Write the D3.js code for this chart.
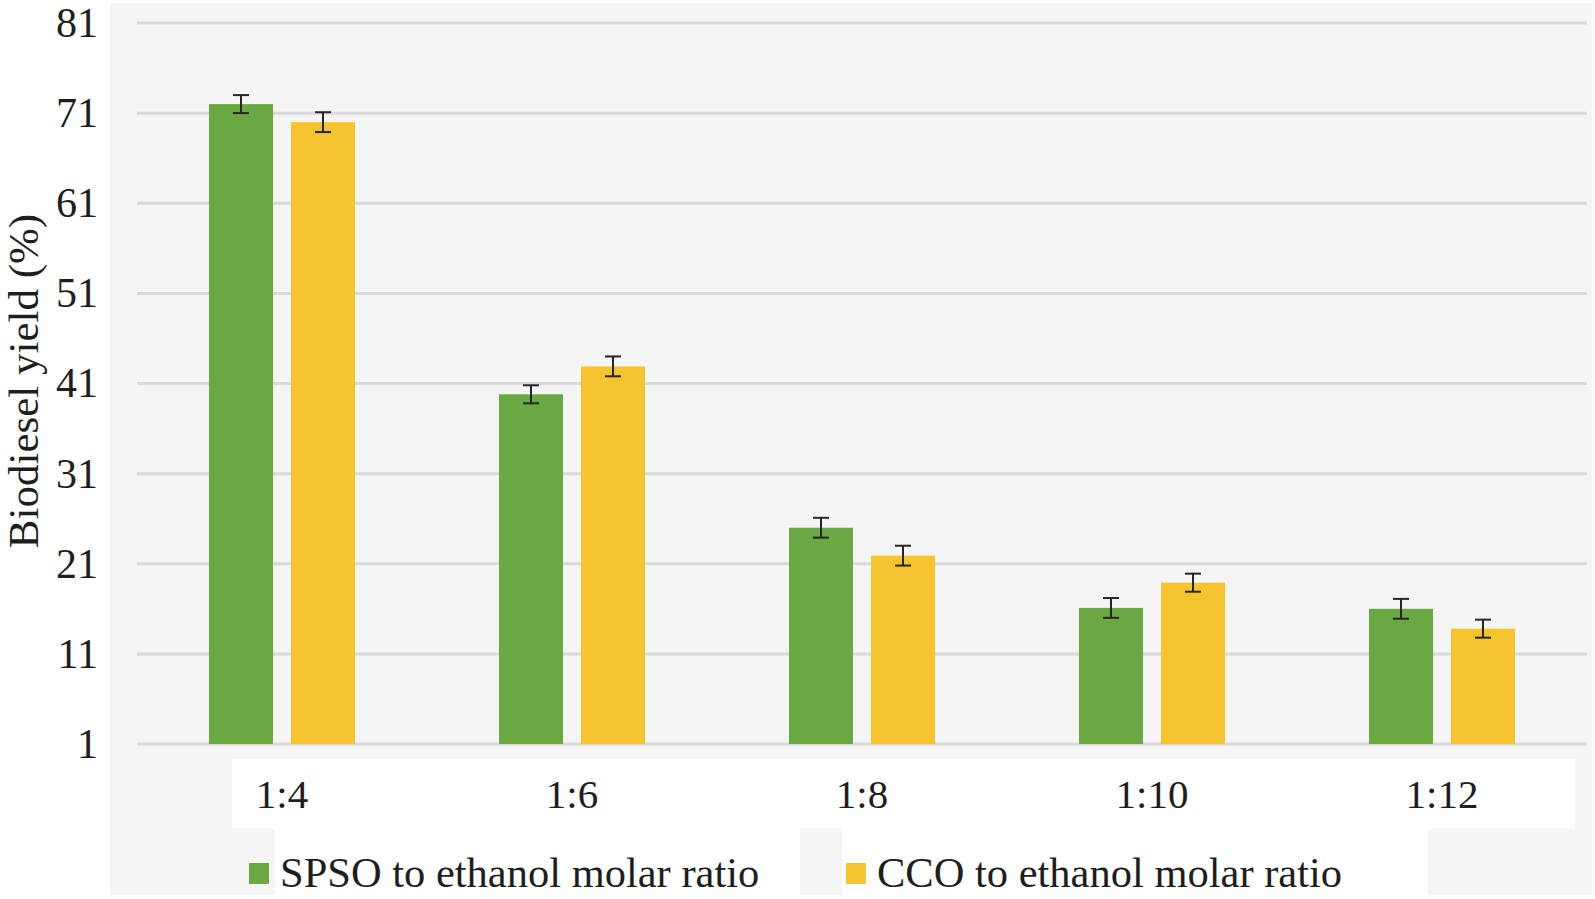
<!DOCTYPE html>
<html>
<head>
<meta charset="utf-8">
<script src="https://cdn.jsdelivr.net/npm/d3@7"></script>
<style>
  html, body { margin: 0; padding: 0; background: #ffffff; }
  svg { display: block; }
  text { font-family: "Liberation Serif", "Times New Roman", serif; fill: #1e1e1e; }
</style>
</head>
<body>
<svg id="chart" width="1595" height="899"></svg>
<script>
const categories = ["1:4", "1:6", "1:8", "1:10", "1:12"];
const seriesNames = ["SPSO to ethanol molar ratio", "CCO to ethanol molar ratio"];
const spsoValues = [72.0, 39.8, 25.0, 16.1, 16.0];
const ccoValues = [70.0, 42.9, 21.9, 18.9, 13.8];
const spsoErrors = [1.0, 1.0, 1.1, 1.1, 1.1];
const ccoErrors = [1.1, 1.1, 1.1, 1.0, 1.0];
const yTicks = [1, 11, 21, 31, 41, 51, 61, 71, 81];
const colors = ["#6aa843", "#f6c42f"];

const svg = d3.select("#chart");

// background panels
const bg = svg.append("g");
bg.append("rect").attr("x", 110).attr("y", 3).attr("width", 1482).attr("height", 892).attr("fill", "#f5f5f5");
bg.append("rect").attr("x", 232).attr("y", 759).attr("width", 1343).attr("height", 70).attr("fill", "#ffffff");
bg.append("rect").attr("x", 275).attr("y", 829).attr("width", 525).attr("height", 66).attr("fill", "#ffffff");
bg.append("rect").attr("x", 842).attr("y", 829).attr("width", 586).attr("height", 66).attr("fill", "#ffffff");

const x = d3.scaleBand().domain(categories).range([137, 1587]).paddingInner(0).paddingOuter(0);
const y = d3.scaleLinear().domain([1, 81]).range([744, 23]);

// gridlines
svg.append("g").selectAll("line").data(yTicks).join("line")
  .attr("x1", 137).attr("x2", 1587)
  .attr("y1", d => y(d)).attr("y2", d => y(d))
  .attr("stroke", "#d9d9d9").attr("stroke-width", 3);

// y tick labels via axis
const yAxis = svg.append("g").attr("transform", "translate(98,0)")
  .call(d3.axisLeft(y).tickValues(yTicks).tickSize(0).tickPadding(0));
yAxis.select(".domain").remove();
yAxis.selectAll("text").attr("font-size", 42).attr("font-family", "Liberation Serif").attr("fill", "#1e1e1e");

// y title
svg.append("text")
  .attr("transform", "translate(38,381) rotate(-90)")
  .attr("text-anchor", "middle")
  .attr("font-size", 43)
  .text("Biodiesel yield (%)");

// bars
const data = categories.map((c, i) => ({
  cat: c,
  vals: [
    { s: 0, v: spsoValues[i], e: spsoErrors[i] },
    { s: 1, v: ccoValues[i], e: ccoErrors[i] }
  ]
}));
const groupW = 146;
const barW = 64;
const gap = 18;
const groups = svg.append("g").selectAll("g").data(data).join("g")
  .attr("transform", d => `translate(${x(d.cat) + x.bandwidth() / 2 - groupW / 2},0)`);
groups.selectAll("rect").data(d => d.vals).join("rect")
  .attr("x", d => d.s * (barW + gap))
  .attr("width", barW)
  .attr("y", d => y(d.v))
  .attr("height", d => y(1) - y(d.v))
  .attr("fill", d => colors[d.s]);

// error bars
const eb = groups.selectAll("g.err").data(d => d.vals).join("g").attr("class", "err")
  .attr("transform", d => `translate(${d.s * (barW + gap) + barW / 2},0)`);
eb.append("line").attr("x1", 0).attr("x2", 0)
  .attr("y1", d => y(d.v + d.e)).attr("y2", d => y(d.v - d.e))
  .attr("stroke", "#262626").attr("stroke-width", 2);
eb.append("line").attr("x1", -8).attr("x2", 8)
  .attr("y1", d => y(d.v + d.e)).attr("y2", d => y(d.v + d.e))
  .attr("stroke", "#262626").attr("stroke-width", 2);
eb.append("line").attr("x1", -8).attr("x2", 8)
  .attr("y1", d => y(d.v - d.e)).attr("y2", d => y(d.v - d.e))
  .attr("stroke", "#262626").attr("stroke-width", 2);

// x labels via axis
const xAxis = svg.append("g").attr("transform", "translate(0,779)")
  .call(d3.axisBottom(x).tickSize(0).tickPadding(0));
xAxis.select(".domain").remove();
xAxis.selectAll("text").attr("font-size", 41).attr("font-family", "Liberation Serif")
  .attr("fill", "#1e1e1e").attr("dy", "0.71em");

// legend
const legendX = [249, 846];
const leg = svg.append("g").selectAll("g").data(seriesNames).join("g")
  .attr("transform", (d, i) => `translate(${legendX[i]},0)`);
leg.append("rect").attr("x", 0).attr("y", 863).attr("width", 20).attr("height", 21)
  .attr("fill", (d, i) => colors[i]);
leg.append("text").attr("x", 31).attr("y", 887).attr("font-size", 42.5).text(d => d);
</script>
</body>
</html>
